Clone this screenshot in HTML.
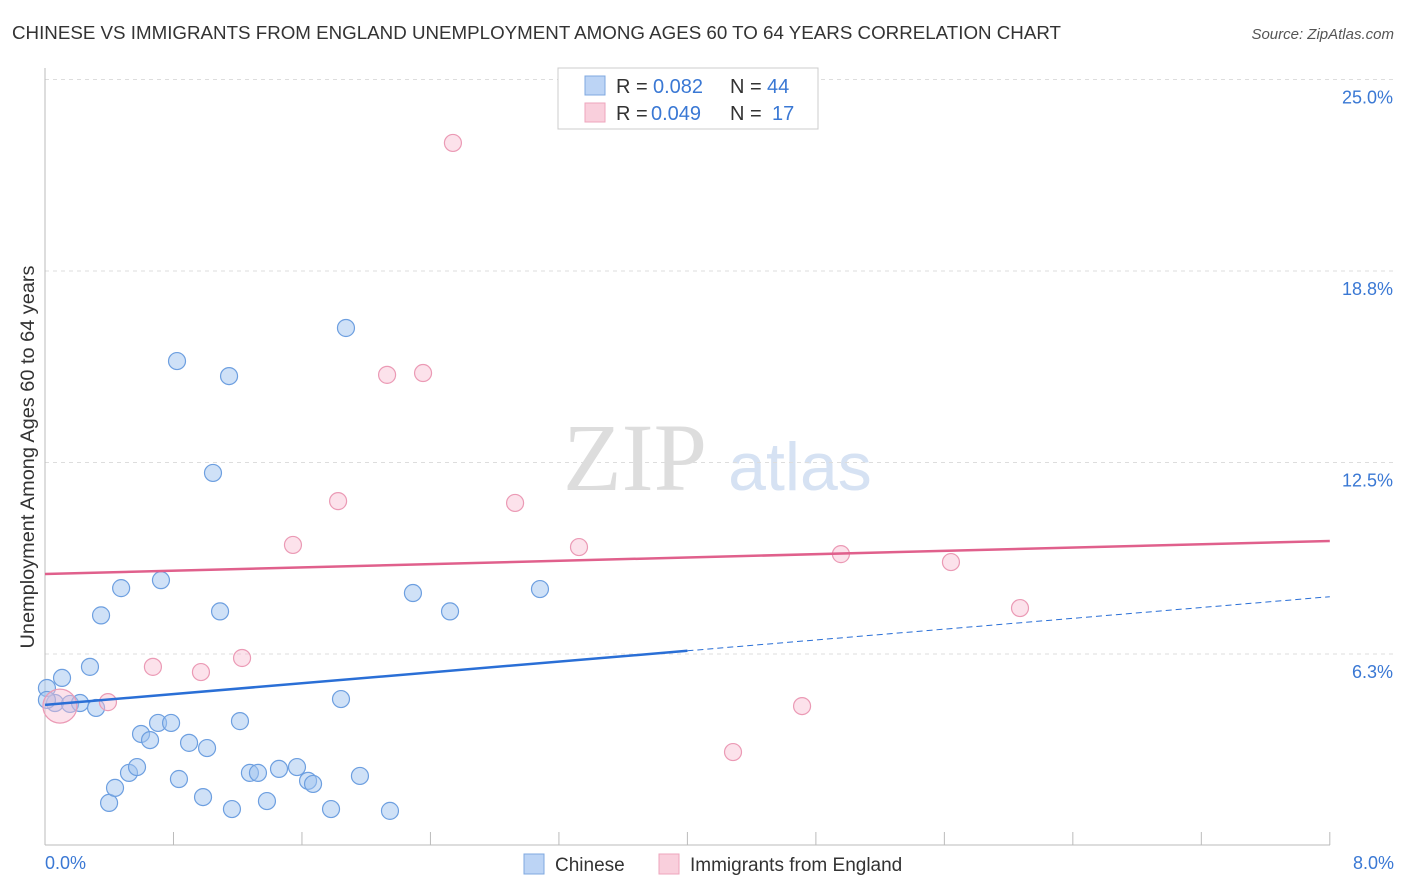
<!DOCTYPE html>
<html><head><meta charset="utf-8"><style>
body{margin:0;background:#fff;font-family:"Liberation Sans",sans-serif;}
svg{display:block}
</style></head><body>
<svg width="1406" height="892" viewBox="0 0 1406 892">
<text x="12" y="39" font-size="18.5" fill="#333" textLength="1049" lengthAdjust="spacingAndGlyphs">CHINESE VS IMMIGRANTS FROM ENGLAND UNEMPLOYMENT AMONG AGES 60 TO 64 YEARS CORRELATION CHART</text>
<text x="1394" y="39" font-size="15" fill="#555" font-style="italic" text-anchor="end">Source: ZipAtlas.com</text>
<text x="635" y="490" font-size="96" fill="#ddd" font-family="Liberation Serif,serif" text-anchor="middle">ZIP</text>
<text x="800" y="490" font-size="68" fill="#d6e2f3" text-anchor="middle">atlas</text>
<g id="grid"></g>
<line x1="45" y1="68" x2="45" y2="845" stroke="#bbb"/>
<line x1="45" y1="845" x2="1330" y2="845" stroke="#bbb"/>
<text transform="translate(34,457) rotate(-90)" font-size="19" fill="#333" text-anchor="middle" textLength="383" lengthAdjust="spacingAndGlyphs">Unemployment Among Ages 60 to 64 years</text>
<text x="45" y="869" font-size="18" fill="#3a78d4">0.0%</text>
<text x="1394" y="869" font-size="18" fill="#3a78d4" text-anchor="end">8.0%</text>
<g id="pts"></g>
<g id="lines"></g>
<g>
<rect x="558" y="68" width="260" height="61" fill="#fff" stroke="#ccc"/>
<rect x="585" y="76" width="20" height="19" fill="#bcd4f5" stroke="#7fa8e0"/>
<rect x="585" y="103" width="20" height="19" fill="#f9cfdc" stroke="#eea5bc"/>
<text y="93" font-size="20" fill="#333"><tspan x="616">R =</tspan><tspan x="653" fill="#3a78d4">0.082</tspan><tspan x="730">N =</tspan><tspan x="767" fill="#3a78d4">44</tspan></text>
<text y="120" font-size="20" fill="#333"><tspan x="616">R =</tspan><tspan x="651" fill="#3a78d4">0.049</tspan><tspan x="730">N =</tspan><tspan x="772" fill="#3a78d4">17</tspan></text>
</g>
<g>
<rect x="524" y="854" width="20" height="20" fill="#bcd4f5" stroke="#7fa8e0"/>
<text x="555" y="871" font-size="19" fill="#333">Chinese</text>
<rect x="659" y="854" width="20" height="20" fill="#f9cfdc" stroke="#eea5bc"/>
<text x="690" y="871" font-size="19" fill="#333">Immigrants from England</text>
</g>
</svg>
<script>
const yTicks=[25,18.75,12.5,6.25];
const yTickLabels=["25.0%","18.8%","12.5%","6.3%"];
const chineseX=[0.012,0.062,0.106,0.156,0.218,0.280,0.318,0.349,0.399,0.436,0.474,0.523,0.573,0.598,0.654,0.704,0.722,0.785,0.822,0.834,0.897,0.984,1.009,1.046,1.090,1.164,1.146,1.214,1.276,1.326,1.382,1.457,1.569,1.638,1.669,1.781,1.843,1.874,1.961,2.148,2.291,2.522,3.082,0.012];
const chineseY=[5.14,4.65,5.47,4.62,4.65,5.83,4.49,7.51,1.39,1.88,8.40,2.37,2.56,3.64,3.44,4.00,8.66,4.00,15.81,2.17,3.35,1.58,3.18,12.16,7.64,1.19,15.32,4.06,2.37,2.37,1.45,2.50,2.56,2.11,2.01,1.19,4.78,16.89,2.27,1.13,8.24,7.64,8.37,4.75];
const englandX=[0.093,0.392,0.672,0.971,1.227,1.544,1.825,2.130,2.354,2.540,2.927,3.325,4.284,4.714,4.956,5.641,6.071];
const englandY=[4.55,4.68,5.83,5.66,6.12,9.81,11.24,15.36,15.42,22.93,11.18,9.74,3.05,4.55,9.51,9.25,7.75];
const chineseTrend=[4.59,8.12];
const englandTrend=[8.86,9.94];
const NS="http://www.w3.org/2000/svg";
const X=v=>45+v*160.6, Y=v=>845.5-v*30.64;
function mk(t,a,p){const e=document.createElementNS(NS,t);for(const k in a)e.setAttribute(k,a[k]);p.appendChild(e);return e;}
const grid=document.getElementById('grid');
yTicks.forEach((t,i)=>{
 const l=mk('line',{x1:45,x2:1394,y1:Y(t),y2:Y(t),stroke:'#ddd','stroke-dasharray':'4,4'},grid);
 
 
 const tx=mk('text',{x:1393,y:Y(t)+24,'font-size':18,fill:'#3a78d4','text-anchor':'end'},grid);
 tx.textContent=yTickLabels[i];
 
 
});
for(let i=1;i<=10;i++){
 const l=mk('line',{x1:X(i*0.8),x2:X(i*0.8),y1:832,y2:845,stroke:'#bbb'},grid);
 
 
}
const pts=document.getElementById('pts');
chineseX.forEach((x,i)=>{
 const c=mk('circle',{cx:X(x),cy:Y(chineseY[i]),r:8.5,fill:'rgba(160,195,240,0.5)',stroke:'#6d9fe0','stroke-width':1.2},pts);
 
 
});
englandX.forEach((x,i)=>{
 const c=mk('circle',{cx:X(x),cy:Y(englandY[i]),r:i==0?17:8.5,fill:'rgba(248,190,210,0.45)',stroke:'#eb9ab5','stroke-width':1.2},pts);
 
 
});
const lines=document.getElementById('lines');
const mid=chineseTrend[0]+(chineseTrend[1]-chineseTrend[0])*0.5;
let l=mk('line',{x1:X(0),y1:Y(chineseTrend[0]),x2:X(4),y2:Y(mid),stroke:'#2a6fd6','stroke-width':2.5},lines);


l=mk('line',{x1:X(4),y1:Y(mid),x2:X(8),y2:Y(chineseTrend[1]),stroke:'#2a6fd6','stroke-width':1,'stroke-dasharray':'6,4'},lines);


l=mk('line',{x1:X(0),y1:Y(englandTrend[0]),x2:X(8),y2:Y(englandTrend[1]),stroke:'#e0608c','stroke-width':2.5},lines);


</script>
</body></html>
